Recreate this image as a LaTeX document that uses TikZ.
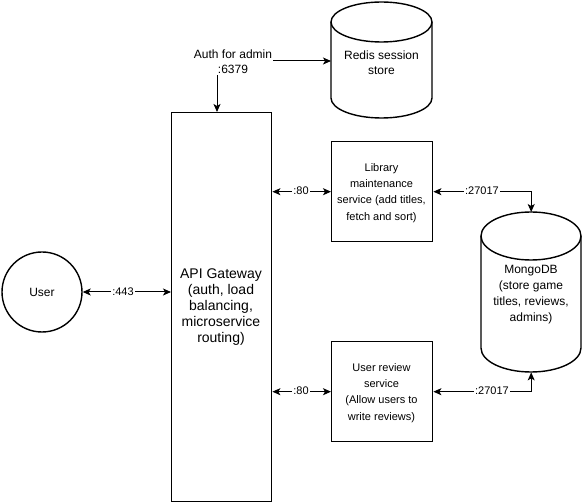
\documentclass[tikz,border=0pt]{standalone}
\usepackage{fontspec}
\setmainfont{Liberation Sans}
\usetikzlibrary{arrows.meta}
\tikzset{
  shapeline/.style={draw=black, line width=1.4pt},
  boxnode/.style={shapeline, rectangle, inner sep=0pt, anchor=north west},
  areanode/.style={draw=none, rectangle, inner sep=0pt, anchor=north west},
  conn/.style={line width=1pt, {Stealth[length=8pt,width=7pt,inset=2pt]}-{Stealth[length=8pt,width=7pt,inset=2pt]}},
  elabel/.style={fill=white, inner sep=1pt, font=\fontsize{11}{13}\selectfont},
  txt/.style={align=center, inner sep=0pt},
}
\begin{document}
\begin{tikzpicture}[x=1pt,y=-1pt]
\useasboundingbox (0,0) rectangle (582,502);
% User
\node[shapeline, circle, minimum size=80pt, inner sep=0pt, font=\fontsize{12}{14}\selectfont] (user) at (42,292) {User};
% API Gateway
\node[boxnode, minimum width=100pt, minimum height=389pt] (gw) at (171,112) {};
\node[txt, font=\fontsize{14}{16}\selectfont] (gwtext) at (221,307) {API Gateway\\(auth, load\\balancing,\\microservice\\routing)};
% Library service
\node[boxnode, minimum width=101pt, minimum height=100pt] (lib) at (331,141) {};
\node[txt, font=\fontsize{11}{16.3}\selectfont] (libtext) at (381.5,193) {Library\\maintenance\\service (add titles,\\fetch and sort)};
% User review service
\node[boxnode, minimum width=101pt, minimum height=100pt] (rev) at (331,341) {};
\node[txt, font=\fontsize{11}{16.3}\selectfont] (revtext) at (381.5,393) {User review\\service\\(Allow users to\\write reviews)};
% Redis cylinder
\node[areanode, minimum width=101pt, minimum height=116pt] (redis) at (331,2) {};
\draw[shapeline] (381.5,22) ellipse [x radius=50.5pt, y radius=20pt];
\draw[shapeline] (331,22) -- (331,98) arc[start angle=180, end angle=360, x radius=50.5pt, y radius=20pt] -- (432,22);
\node[txt, font=\fontsize{12}{15}\selectfont] (redistext) at (381.5,63) {Redis session\\store};
% MongoDB cylinder
\node[areanode, minimum width=100pt, minimum height=160pt] (mongo) at (481,212) {};
\draw[shapeline] (531,236) ellipse [x radius=50pt, y radius=24pt];
\draw[shapeline] (481,236) -- (481,348) arc[start angle=180, end angle=360, x radius=50pt, y radius=24pt] -- (581,236);
\node[txt, font=\fontsize{12}{16}\selectfont] (mongotext) at (531,295) {MongoDB\\(store game\\titles, reviews,\\admins)};
% Connectors
\draw[conn] (user.east) -- (user.east -| gw.west);
\node[elabel] (l443) at (123,292) {:443};
\draw[conn] (lib.west -| gw.east) -- (lib.west);
\node[elabel] (l80a) at (301,191) {:80};
\draw[conn] (rev.west -| gw.east) -- (rev.west);
\node[elabel] (l80b) at (301,391) {:80};
\draw[conn] (lib.east) -| (mongo.north);
\node[elabel] (l27a) at (482,191) {:27017};
\draw[conn] (rev.east) -| (mongo.south);
\node[elabel] (l27b) at (492,391) {:27017};
\coordinate (ac) at (217,61);
\draw[conn] (gw.north -| ac) -- (ac) -- (ac -| redis.west);
\node[elabel, align=center, font=\fontsize{12}{15}\selectfont] (lauth) at (233,62) {Auth for admin\\:6379};
\end{tikzpicture}
\end{document}
